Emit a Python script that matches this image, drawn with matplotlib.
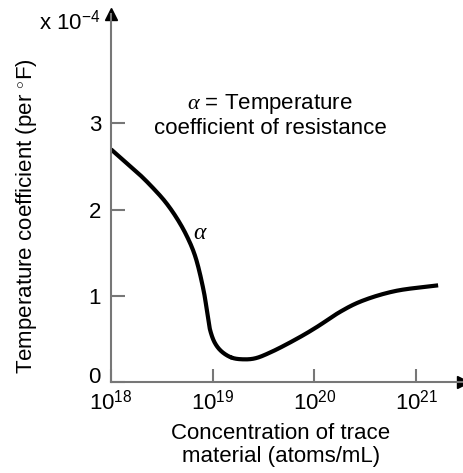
"""Temperature coefficient of resistance vs. trace material concentration."""

import matplotlib
matplotlib.use("Agg")
import matplotlib.pyplot as plt
import matplotlib.transforms as mtransforms
import numpy as np

# curve: log10(concentration) and coefficient (x 1e-4 per F)
log_conc = [18.003, 18.141, 18.271, 18.403, 18.534, 18.649, 18.747, 18.829,
            18.911, 18.944, 18.976, 19.025, 19.091, 19.190, 19.304, 19.419, 19.583,
            19.86, 20.03, 20.25, 20.45, 20.78, 21.215]
coeff = [2.70, 2.556, 2.421, 2.266, 2.093, 1.900, 1.693, 1.46,
         1.067, 0.834, 0.601, 0.446, 0.349, 0.279, 0.260, 0.272, 0.349,
         0.52, 0.64, 0.81, 0.93, 1.05, 1.12]

x_ticks = [1e18, 1e19, 1e20, 1e21]
x_tick_labels = ["$10^{18}$", "$10^{19}$", "$10^{20}$", "$10^{21}$"]
y_ticks = [0, 1, 2, 3]

plt.rcParams["font.family"] = ["Liberation Sans", "DejaVu Sans"]
plt.rcParams["mathtext.fontset"] = "custom"
plt.rcParams["mathtext.rm"] = "Liberation Sans"
plt.rcParams["mathtext.it"] = "Liberation Serif:italic"

axis_color = "#777777"
fs = 16


def catmull_rom(px, py, n=30):
    """Centripetal Catmull-Rom through the points (in roughly isotropic units)."""
    pts = np.column_stack([px, py])
    pts = np.vstack([2 * pts[0] - pts[1], pts, 2 * pts[-1] - pts[-2]])
    out = []
    for i in range(1, len(pts) - 2):
        p0, p1, p2, p3 = pts[i - 1], pts[i], pts[i + 1], pts[i + 2]
        t0 = 0.0
        t1 = t0 + np.linalg.norm(p1 - p0) ** 0.5
        t2 = t1 + np.linalg.norm(p2 - p1) ** 0.5
        t3 = t2 + np.linalg.norm(p3 - p2) ** 0.5
        t = np.linspace(t1, t2, n)[:, None]
        a1 = (t1 - t) / (t1 - t0) * p0 + (t - t0) / (t1 - t0) * p1
        a2 = (t2 - t) / (t2 - t1) * p1 + (t - t1) / (t2 - t1) * p2
        a3 = (t3 - t) / (t3 - t2) * p2 + (t - t2) / (t3 - t2) * p3
        b1 = (t2 - t) / (t2 - t0) * a1 + (t - t0) / (t2 - t0) * a2
        b2 = (t3 - t) / (t3 - t1) * a2 + (t - t1) / (t3 - t1) * a3
        out.append((t2 - t) / (t2 - t1) * b1 + (t - t1) / (t2 - t1) * b2)
    out = np.vstack(out)
    return out[:, 0], out[:, 1]


fig = plt.figure(figsize=(4.64, 4.73), dpi=100)
ax = fig.add_axes([0.2386, 0.193, 0.7594, 0.777])

# spline in pixel-like units: one decade ~ 101.7 px, one unit ~ 86 px
sx, sy = catmull_rom(np.array(log_conc) * 101.7, np.array(coeff) * 86)
ax.plot(10 ** (sx / 101.7), sy / 86, color="black", lw=3, solid_capstyle="butt")

ax.set_xscale("log")
ax.set_xlim(1e18, 10 ** 21.46)
ax.set_ylim(0, 4.27)

for side in ("top", "right"):
    ax.spines[side].set_visible(False)
for side in ("left", "bottom"):
    ax.spines[side].set_color(axis_color)
    ax.spines[side].set_linewidth(1.5)

ax.set_xticks(x_ticks)
ax.set_xticklabels(x_tick_labels)
ax.xaxis.set_minor_locator(matplotlib.ticker.NullLocator())
ax.set_yticks(y_ticks)
ax.tick_params(axis="x", direction="in", length=9.5, width=1.5, color=axis_color,
               labelsize=fs, pad=6)
ax.tick_params(axis="y", direction="in", length=10, width=1.5, color=axis_color,
               labelsize=fs, pad=7)

# the "0" label sits a little above the x axis
zero_label = ax.get_yticklabels()[0]
zero_label.set_transform(zero_label.get_transform()
                         + mtransforms.ScaledTranslation(0, 5 / 72, fig.dpi_scale_trans))

# arrow heads on axes
ax.plot(1, 0, ">", color="black", markersize=8, transform=ax.transAxes, clip_on=False)
ax.plot(0, 1, "^", color="black", markersize=8, transform=ax.transAxes, clip_on=False)

fig.text(281 / 464, 1 - 423 / 473, "Concentration of trace\nmaterial (atoms/mL)",
         fontsize=fs, ha="center", va="top", linespacing=1.15)
fig.text(27 / 464, 1 - 216 / 473, "Temperature coefficient (per $^{\\circ}$F)",
         fontsize=fs, ha="center", va="center", rotation=90)

fig.text(100 / 464, 1 - 22 / 473, "x $10^{-4}$", fontsize=fs, ha="right", va="center")
fig.text(270 / 464, 1 - 139 / 473, "$\\alpha$ = Temperature\ncoefficient of resistance",
         fontsize=fs, ha="center", va="bottom", linespacing=1.1)
fig.text(200 / 464, 1 - 233 / 473, "$\\alpha$", fontsize=fs + 1, ha="center", va="center")

fig.savefig("out.png", dpi=100)
